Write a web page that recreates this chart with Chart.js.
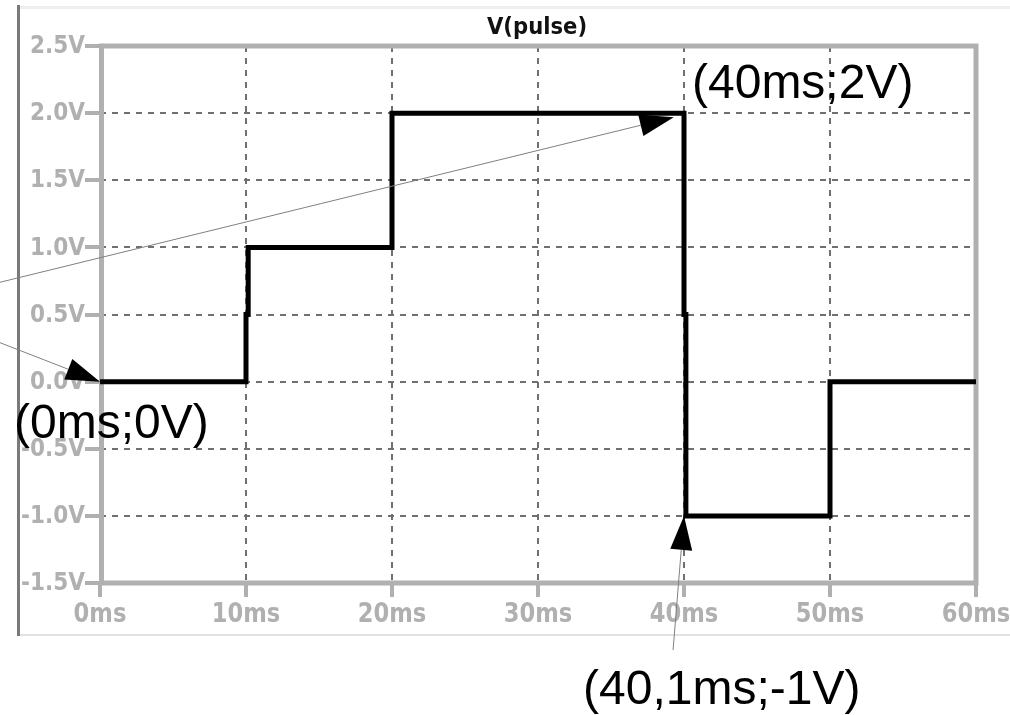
<!DOCTYPE html>
<html>
<head>
<meta charset="utf-8">
<script src="https://cdn.jsdelivr.net/npm/chart.js@4"></script>
<style>
  html, body { margin: 0; padding: 0; background: #fff; }
  #wrap { width: 1010px; height: 715px; position: relative; }
</style>
</head>
<body>
<div id="wrap"><canvas id="pulse-chart"></canvas></div>
<script>
// Waveform V(pulse): time in ms, voltage in V
const timeMs = [0, 10, 10, 10.15, 10.15, 20, 20, 40, 40, 40.13, 40.13, 50, 50, 60];
const voltV  = [0, 0, 0.5, 0.5, 1, 1, 2, 2, 0.5, 0.5, -1, -1, 0, 0];

// Axis ticks
const xTicks = [0, 10, 20, 30, 40, 50, 60];
const yTicks = [-1.5, -1.0, -0.5, 0.0, 0.5, 1.0, 1.5, 2.0, 2.5];

// Annotations (arrow tip / tail in data units)
const noteText  = ['(40ms;2V)', '(0ms;0V)', '(40,1ms;-1V)'];
const noteAtX   = [40, 0, 40];
const noteAtY   = [2, 0, -1];
const arrowTipX = [39.3, 0, 40];
const arrowTipY = [1.97, 0, -1];
const arrowTailX = [-6.85, -6.85, 39.25];
const arrowTailY = [0.74, 0.29, -2.0];

const GRAY = '#b0b0b0';

// narrow, tall LTspice-like label text
function narrowText(ctx, text, x, y, size, squeeze, align) {
    ctx.save();
    ctx.translate(x, y);
    ctx.scale(squeeze, 1);
    ctx.font = 'bold ' + size + 'px "DejaVu Sans"';
    ctx.textAlign = align;
    ctx.textBaseline = 'middle';
    ctx.fillText(text, 0, 0);
    ctx.restore();
}

// Frame, plot box, title, tick labels and the annotations
const ltspiceDecor = {
    id: 'ltspiceDecor',
    beforeDatasetsDraw(chart) {
        const ctx = chart.ctx;
        const a = chart.chartArea;
        ctx.save();
        ctx.strokeStyle = GRAY;
        ctx.lineWidth = 5;
        ctx.strokeRect(a.left + 1.5, a.top, a.right - a.left - 1.5, a.bottom - a.top);
        ctx.restore();
    },
    afterDraw(chart) {
        const ctx = chart.ctx;
        const xs = chart.scales.x;
        const ys = chart.scales.y;
        const a = chart.chartArea;
        ctx.save();

        // outer window lines
        ctx.strokeStyle = '#eeeeee';
        ctx.lineWidth = 3;
        ctx.beginPath(); ctx.moveTo(20, 7.5); ctx.lineTo(1010, 7.5); ctx.stroke();
        ctx.strokeStyle = '#e2e2e2';
        ctx.lineWidth = 2;
        ctx.beginPath(); ctx.moveTo(17, 635); ctx.lineTo(1010, 635); ctx.stroke();
        ctx.strokeStyle = '#7a7a7a';
        ctx.lineWidth = 3;
        ctx.beginPath(); ctx.moveTo(18.5, 5); ctx.lineTo(18.5, 636); ctx.stroke();

        // tick labels
        ctx.fillStyle = GRAY;
        yTicks.forEach(v => {
            narrowText(ctx, v.toFixed(1) + 'V', a.left - 15, ys.getPixelForValue(v) + 1, 24, 0.9, 'right');
        });
        xTicks.forEach(v => {
            narrowText(ctx, v + 'ms', xs.getPixelForValue(v), 615, 26, 0.87, 'center');
        });

        // title
        ctx.fillStyle = '#111';
        narrowText(ctx, 'V(pulse)', (a.left + a.right) / 2 - 1, 28, 23, 0.92, 'center');

        // arrows
        for (let i = 0; i < arrowTipX.length; i++) {
            const tx = xs.getPixelForValue(arrowTipX[i]);
            const ty = ys.getPixelForValue(arrowTipY[i]);
            const sx = xs.getPixelForValue(arrowTailX[i]);
            const sy = ys.getPixelForValue(arrowTailY[i]);
            const ang = Math.atan2(ty - sy, tx - sx);
            const len = 34, half = 11;
            const bx = tx - len * Math.cos(ang), by = ty - len * Math.sin(ang);
            ctx.strokeStyle = '#808080';
            ctx.lineWidth = 1;
            ctx.beginPath(); ctx.moveTo(sx, sy); ctx.lineTo(bx, by); ctx.stroke();
            ctx.fillStyle = '#000';
            ctx.beginPath();
            ctx.moveTo(tx, ty);
            ctx.lineTo(bx + half * Math.sin(ang), by - half * Math.cos(ang));
            ctx.lineTo(bx - half * Math.sin(ang), by + half * Math.cos(ang));
            ctx.closePath();
            ctx.fill();
        }

        // annotation labels
        const offX = [8, -86, -101];
        const offY = [-15, 56, 188];
        ctx.fillStyle = '#000';
        ctx.font = '48px "Liberation Sans", Arial, sans-serif';
        ctx.textAlign = 'left';
        ctx.textBaseline = 'alphabetic';
        for (let i = 0; i < noteText.length; i++) {
            const px = xs.getPixelForValue(noteAtX[i]) + offX[i];
            const py = ys.getPixelForValue(noteAtY[i]) + offY[i];
            ctx.fillText(noteText[i], px, py);
        }
        ctx.restore();
    }
};

const ctx = document.getElementById('pulse-chart').getContext('2d');
const pulseChart = new Chart(ctx, {
    type: 'line',
    data: {
        datasets: [{
            label: 'V(pulse)',
            data: timeMs.map((t, i) => ({ x: t, y: voltV[i] })),
            borderColor: '#000',
            borderWidth: 5,
            pointRadius: 0,
            tension: 0,
            fill: false,
            borderJoinStyle: 'miter',
            borderCapStyle: 'butt'
        }]
    },
    options: {
        responsive: true,
        maintainAspectRatio: false,
        animation: false,
        layout: { padding: { left: 0, right: 34, top: 46, bottom: 0 } },
        plugins: {
            legend: { display: false },
            title: { display: false },
            tooltip: { enabled: false }
        },
        scales: {
            x: {
                type: 'linear',
                min: 0,
                max: 60,
                afterFit: (scale) => { scale.height = 132; },
                afterBuildTicks: (scale) => { scale.ticks = xTicks.map(v => ({ value: v })); },
                ticks: { display: false },
                grid: {
                    color: '#707070',
                    lineWidth: 2,
                    drawTicks: true,
                    tickLength: 14,
                    tickColor: GRAY,
                    tickWidth: 4,
                    tickBorderDash: []
                },
                border: { display: false, dash: [6, 6] }
            },
            y: {
                min: -1.5,
                max: 2.5,
                afterFit: (scale) => { scale.width = 100; },
                afterBuildTicks: (scale) => { scale.ticks = yTicks.map(v => ({ value: v })); },
                ticks: { display: false },
                grid: {
                    color: '#707070',
                    lineWidth: 2,
                    drawTicks: true,
                    tickLength: 15,
                    tickColor: GRAY,
                    tickWidth: 4,
                    tickBorderDash: []
                },
                border: { display: false, dash: [6, 6] }
            }
        }
    },
    plugins: [ltspiceDecor]
});
</script>
</body>
</html>
